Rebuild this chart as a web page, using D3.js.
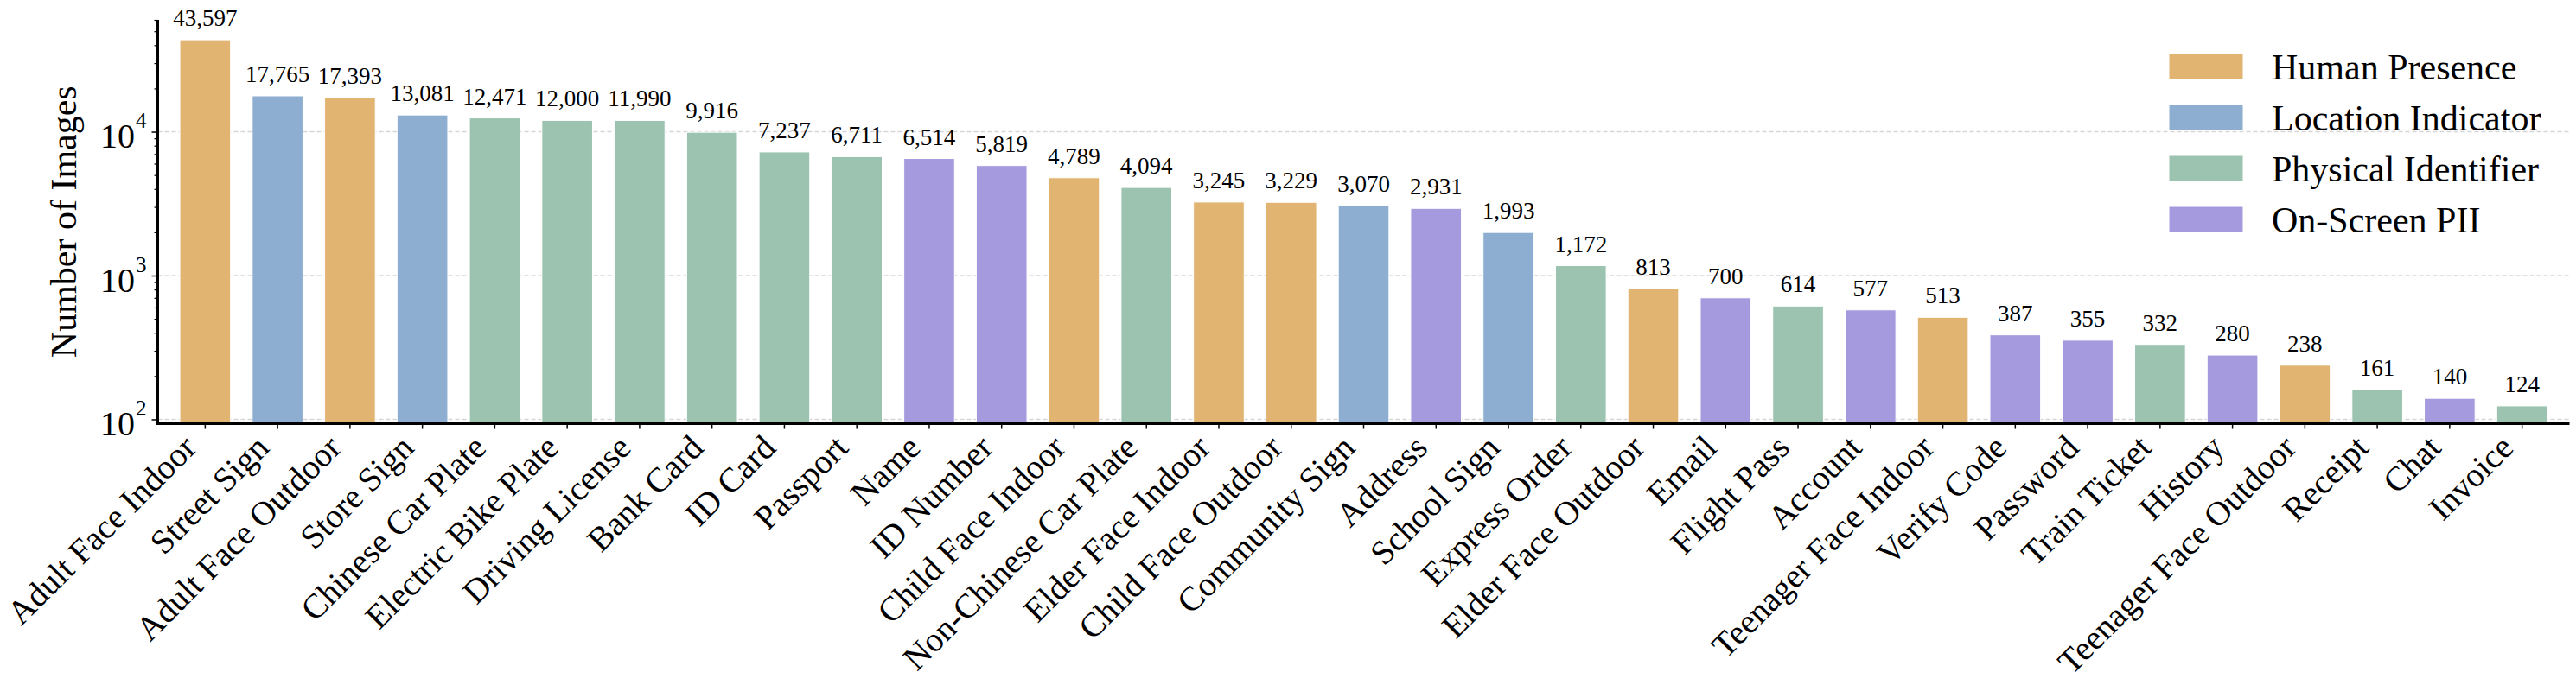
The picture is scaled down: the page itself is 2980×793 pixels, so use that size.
<!DOCTYPE html>
<html>
<head>
<meta charset="utf-8">
<script src="https://cdn.jsdelivr.net/npm/d3@7"></script>
<style>
  body { margin: 0; background: #fff; }
  svg text { font-family: "Times New Roman", "Liberation Serif", serif; fill: #000; }
</style>
</head>
<body>
<div class="graph"></div>
<script>
const categories = ["Adult Face Indoor", "Street Sign", "Adult Face Outdoor", "Store Sign", "Chinese Car Plate",
  "Electric Bike Plate", "Driving License", "Bank Card", "ID Card", "Passport", "Name", "ID Number",
  "Child Face Indoor", "Non-Chinese Car Plate", "Elder Face Indoor", "Child Face Outdoor", "Community Sign",
  "Address", "School Sign", "Express Order", "Elder Face Outdoor", "Email", "Flight Pass", "Account",
  "Teenager Face Indoor", "Verify Code", "Password", "Train Ticket", "History", "Teenager Face Outdoor",
  "Receipt", "Chat", "Invoice"]
const counts = [43597, 17765, 17393, 13081, 12471, 12000, 11990, 9916, 7237, 6711, 6514, 5819,
  4789, 4094, 3245, 3229, 3070, 2931, 1993, 1172, 813, 700, 614, 577, 513, 387, 355, 332, 280, 238,
  161, 140, 124]
const groups = ["Human Presence", "Location Indicator", "Human Presence", "Location Indicator", "Physical Identifier",
  "Physical Identifier", "Physical Identifier", "Physical Identifier", "Physical Identifier", "Physical Identifier",
  "On-Screen PII", "On-Screen PII", "Human Presence", "Physical Identifier", "Human Presence", "Human Presence",
  "Location Indicator", "On-Screen PII", "Location Indicator", "Physical Identifier", "Human Presence",
  "On-Screen PII", "Physical Identifier", "On-Screen PII", "Human Presence", "On-Screen PII", "On-Screen PII",
  "Physical Identifier", "On-Screen PII", "Human Presence", "Physical Identifier", "On-Screen PII", "Physical Identifier"]
const groupNames = ["Human Presence", "Location Indicator", "Physical Identifier", "On-Screen PII"]
const groupColors = ["#e1b472", "#8daed0", "#9cc3b0", "#a59ade"]
const yTicks = [100, 1000, 10000]
const yTickExp = ["2", "3", "4"]

const data = categories.map((c, i) => ({ name: c, value: counts[i], group: groups[i] }))

const W = 2980, H = 793
const plotLeft = 182.5, plotRight = 2972.5, plotTop = 23, plotBottom = 490.5
const serif = '"Times New Roman", "Liberation Serif", serif'

var svg = d3.select(".graph").append("svg").attr("width", W).attr("height", H)
svg.append("rect").attr("width", W).attr("height", H).attr("fill", "#fff")

const xScale = d3.scaleBand().domain(categories).range([plotLeft, plotRight]).paddingInner(0.3).paddingOuter(0.305)
const yScale = d3.scaleLog().domain([93.3, 60000]).range([plotBottom, plotTop])
const color = d3.scaleOrdinal().domain(groupNames).range(groupColors)

// grid
svg.append("g").selectAll("line").data(yTicks).join("line")
  .attr("x1", plotLeft).attr("x2", plotRight)
  .attr("y1", d => yScale(d)).attr("y2", d => yScale(d))
  .attr("stroke", "#d6d6d6").attr("stroke-width", 1.5).attr("stroke-dasharray", "5,3")

// bars
svg.append("g").selectAll("rect").data(data).join("rect")
  .attr("x", d => xScale(d.name))
  .attr("width", xScale.bandwidth())
  .attr("y", d => yScale(d.value))
  .attr("height", d => plotBottom - yScale(d.value))
  .attr("fill", d => color(d.group))
  .attr("stroke", "#fff").attr("stroke-width", 1)

// value labels
svg.append("g").selectAll("text").data(data).join("text")
  .attr("x", d => xScale(d.name) + xScale.bandwidth() / 2)
  .attr("y", d => yScale(d.value) - 16)
  .attr("text-anchor", "middle")
  .attr("font-family", serif)
  .attr("font-size", 27)
  .text(d => d3.format(",")(d.value))

// y axis
const yAxis = svg.append("g").attr("transform", "translate(" + plotLeft + ",0)")
  .call(d3.axisLeft(yScale).tickValues(yTicks).tickSize(7).tickFormat(""))
yAxis.select(".domain").remove()
yAxis.selectAll(".tick line").attr("stroke", "#000").attr("stroke-width", 1.5)
const minor = []
for (let e = 2; e <= 4; e++) for (let m = 2; m <= 9; m++) {
  const v = m * Math.pow(10, e)
  if (v <= 60000) minor.push(v)
}
svg.append("g").attr("transform", "translate(" + plotLeft + ",0)")
  .call(d3.axisLeft(yScale).tickValues(minor).tickSize(4).tickFormat(""))
  .call(g => g.select(".domain").remove())
  .selectAll(".tick line").attr("stroke", "#000").attr("stroke-width", 1.2)

svg.append("g").selectAll("text").data(yTicks).join("text")
  .attr("x", 156).attr("y", d => yScale(d) + 18.5)
  .attr("text-anchor", "end").attr("font-family", serif).attr("font-size", 40)
  .text("10")
svg.append("g").selectAll("text").data(yTicks).join("text")
  .attr("x", 157).attr("y", d => yScale(d) - 4.5)
  .attr("font-family", serif).attr("font-size", 25)
  .text((d, i) => yTickExp[i])

// x axis
const xAxis = svg.append("g").attr("transform", "translate(0," + plotBottom + ")")
  .call(d3.axisBottom(xScale).tickSize(6).tickFormat(""))
xAxis.select(".domain").remove()
xAxis.selectAll(".tick line").attr("stroke", "#000").attr("stroke-width", 1.5)

svg.append("g").selectAll("text").data(categories).join("text")
  .attr("transform", d => "translate(" + (xScale(d) + xScale.bandwidth() / 2 - 8) + "," + (plotBottom + 30) + ") rotate(-45)")
  .attr("text-anchor", "end")
  .attr("font-family", serif)
  .attr("font-size", 39.5)
  .text(d => d)

// spines
svg.append("line").attr("x1", plotLeft).attr("x2", plotLeft).attr("y1", plotTop).attr("y2", plotBottom + 1.5)
  .attr("stroke", "#000").attr("stroke-width", 3)
svg.append("line").attr("x1", plotLeft - 1.5).attr("x2", plotRight).attr("y1", plotBottom).attr("y2", plotBottom)
  .attr("stroke", "#000").attr("stroke-width", 3)

svg.append("text")
  .attr("transform", "translate(88," + ((plotTop + plotBottom) / 2) + ") rotate(-90)")
  .attr("text-anchor", "middle").attr("font-family", serif).attr("font-size", 42)
  .text("Number of Images")

// legend
const legend = svg.append("g").selectAll("g").data(groupNames).join("g")
  .attr("transform", (d, i) => "translate(2509," + (62 + i * 59) + ")")
legend.append("rect").attr("width", 86).attr("height", 30)
  .attr("fill", d => color(d)).attr("stroke", "#fff").attr("stroke-width", 1)
legend.append("text").attr("x", 119).attr("y", 30)
  .attr("font-family", serif).attr("font-size", 42).text(d => d)
</script>
</body>
</html>
